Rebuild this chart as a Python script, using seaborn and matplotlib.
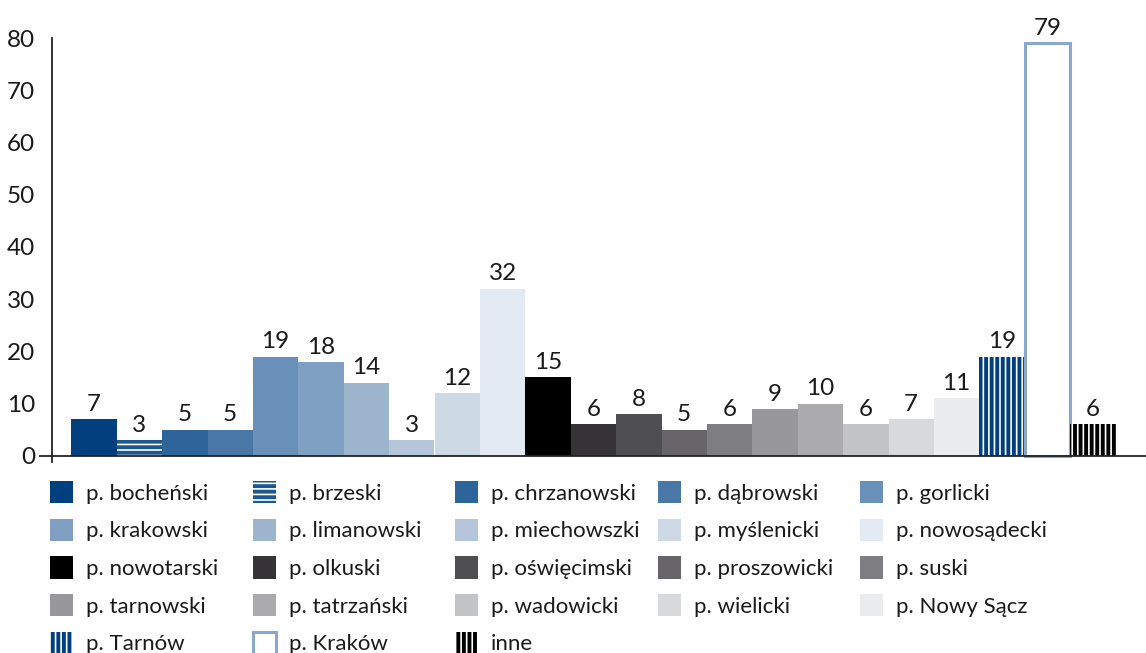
import matplotlib
matplotlib.use("Agg")
import matplotlib.pyplot as plt
import seaborn as sns
import pandas as pd

# Powiaty and their counts
categories = [
    "p. bocheński", "p. brzeski", "p. chrzanowski", "p. dąbrowski", "p. gorlicki",
    "p. krakowski", "p. limanowski", "p. miechowszki", "p. myślenicki", "p. nowosądecki",
    "p. nowotarski", "p. olkuski", "p. oświęcimski", "p. proszowicki", "p. suski",
    "p. tarnowski", "p. tatrzański", "p. wadowicki", "p. wielicki", "p. Nowy Sącz",
    "p. Tarnów", "p. Kraków", "inne",
]
values = [7, 3, 5, 5, 19, 18, 14, 3, 12, 32, 15, 6, 8, 5, 6, 9, 10, 6, 7, 11, 19, 79, 6]
yticks = [0, 10, 20, 30, 40, 50, 60, 70, 80]

colors = [
    "#023f7e", "#1d5791", "#2d6499", "#4a78a6", "#6890b8",
    "#80a0c3", "#9db4cd", "#b5c6db", "#cdd9e5", "#e3eaf3",
    "#000000", "#363436", "#4f4f51", "#676569", "#7e7d82",
    "#98979b", "#ababad", "#c3c4c6", "#d7d9db", "#ebecee",
    "#ffffff", "#ffffff", "#ffffff",
]

sns.set_theme(style="white")
plt.rcParams["font.family"] = ["Lato", "DejaVu Sans"]
plt.rcParams["hatch.linewidth"] = 2.8
text_color = "#1a1a1a"

df = pd.DataFrame({"name": categories, "value": values})

fig = plt.figure(figsize=(11.46, 6.53), dpi=100)
W, H = 1146, 653
ax = fig.add_axes([40 / W, 1 - 462 / H, 1106 / W, (462 - 38) / H])

sns.barplot(data=df, x="name", y="value", hue="name", palette=colors,
            saturation=1, width=1.0, dodge=False, legend=False, ax=ax, linewidth=0)

bars = list(ax.patches)

# patterned bars
def stripe(p, face, line, pattern):
    p.set_facecolor(face)
    p.set_edgecolor(line)
    p.set_linewidth(0)
    p.set_hatch(pattern)

stripe(bars[1], "#ffffff", "#1d5791", "---")
stripe(bars[20], "#ffffff", "#023f7e", "|||")
stripe(bars[22], "#ffffff", "#000000", "|||")
kr = bars[21]
kr.set_facecolor("#ffffff")
kr.set_edgecolor("#8aa8cb")
kr.set_linewidth(2.2)

for p, v in zip(bars, values):
    ax.annotate(f"{v}", (p.get_x() + p.get_width() / 2, v), xytext=(0, 3),
                textcoords="offset points", ha="center", va="bottom",
                fontsize=17.5, color=text_color)

bw = 45.4
ax.set_xlim(-(94 - 40) / bw, (1146 - 94) / bw)
ax.set_ylim(-1.2, 80)
ax.set_yticks(yticks)
ax.set_yticklabels([str(t) for t in yticks])
ax.set_xticks([])
ax.set_xlabel("")
ax.set_ylabel("")
ax.tick_params(axis="y", length=0, pad=12, labelsize=17.5, labelcolor=text_color)

for s in ("top", "right"):
    ax.spines[s].set_visible(False)
ax.spines["left"].set_position(("data", -(94 - 52) / bw))
ax.spines["bottom"].set_position(("data", 0))
for s in ("left", "bottom"):
    ax.spines[s].set_color("#222222")
    ax.spines[s].set_linewidth(1.3)

# legend: five evenly spaced columns, filled row by row
ncol = 5
col_x = [50, 253, 455, 658, 860]
for c in range(ncol):
    idx = list(range(c, len(categories), ncol))
    leg = fig.legend([bars[i] for i in idx], [categories[i] for i in idx],
                     loc="upper left", bbox_to_anchor=(col_x[c] / W, 1 - 481 / H),
                     frameon=False, fontsize=16, handlelength=1.05, handleheight=1.18,
                     handletextpad=0.55, labelspacing=0.67,
                     borderaxespad=0, borderpad=0)
    for t in leg.get_texts():
        t.set_color(text_color)

fig.savefig("out.png", dpi=100)
